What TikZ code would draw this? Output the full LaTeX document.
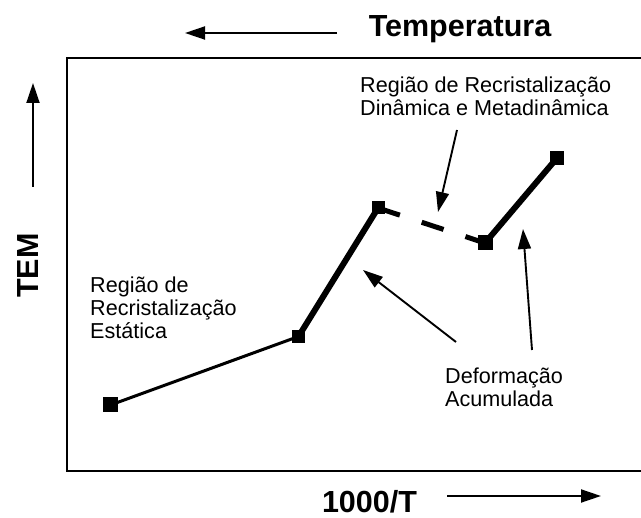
\documentclass[tikz,border=0pt]{standalone}
\usepackage{fontspec}
\setmainfont{Liberation Sans}
\usetikzlibrary{arrows.meta}
\tikzset{
  mk/.style={rectangle, fill=black, draw=none, minimum size=14pt, inner sep=0pt},
  thinseg/.style={line width=3pt},
  thickseg/.style={line width=6pt},
  dashseg/.style={line width=5pt, dash pattern=on 23pt off 23pt},
  frame/.style={line width=2.4pt, line join=miter},
  ptr/.style={line width=1.9pt, -{Triangle[length=20pt,width=13pt]}},
  lbl/.style={font=\fontsize{21.6}{23}\selectfont, align=left, anchor=north west, inner sep=0pt},
  ttl/.style={font=\bfseries\fontsize{30.5}{34}\selectfont, inner sep=0pt, anchor=base}
}
\begin{document}
\begin{tikzpicture}[x=1pt,y=-1pt]
\useasboundingbox[fill=white] (0,0) rectangle (641,518);
% frame (open on the right)
\coordinate (ftr) at (641,58);
\coordinate (ftl) at (67,58);
\coordinate (fbl) at (67,471);
\coordinate (fbr) at (641,471);
\draw[frame] (ftr) -- (ftl) -- (fbl) -- (fbr);
% titles
\node[ttl] (temp) at (460,37) {Temperatura};
\node[ttl] (invt) at (369.5,513) {1000/T};
\node[ttl, rotate=90] (tem) at (38,265.5) {TEM};
% axis arrows
\coordinate (ta1) at (337,33);
\coordinate (ta2) at (185,33);
\draw[ptr] (ta1) -- (ta2);
\coordinate (ua1) at (33,187);
\coordinate (ua2) at (33,83);
\draw[ptr] (ua1) -- (ua2);
\coordinate (ra1) at (447,496);
\coordinate (ra2) at (601,496);
\draw[ptr] (ra1) -- (ra2);
% data markers
\node[mk, minimum size=15pt] (p1) at (110.5,405) {};
\node[mk, minimum size=13pt] (p2) at (298.5,336.5) {};
\node[mk, minimum size=13pt] (p3) at (378,208) {};
\node[mk, minimum size=15pt] (p4) at (485,243) {};
\node[mk, minimum size=14pt] (p5) at (557,158) {};
% data lines
\draw[thinseg] (p1.center) -- (p2.center);
\draw[thickseg] (p2.center) -- (p3.center);
\draw[dashseg] (p3.center) -- (p4.center);
\draw[thickseg] (p4.center) -- (p5.center);
% labels
\node[lbl] (ldin) at (360,76.5) {Região de Recristalização\\Dinâmica e Metadinâmica};
\node[lbl] (lest) at (90,276.5) {Região de\\Recristalização\\Estática};
\node[lbl] (ldef) at (445,367.5) {Deformação\\Acumulada};
% pointer arrows
\coordinate (a1s) at (457,130);
\coordinate (a1e) at (438,212);
\draw[ptr] (a1s) -- (a1e);
\coordinate (a2s) at (456,342);
\coordinate (a2e) at (363,270);
\draw[ptr] (a2s) -- (a2e);
\coordinate (a3s) at (532,350);
\coordinate (a3e) at (523,229);
\draw[ptr] (a3s) -- (a3e);
\end{tikzpicture}
\end{document}
